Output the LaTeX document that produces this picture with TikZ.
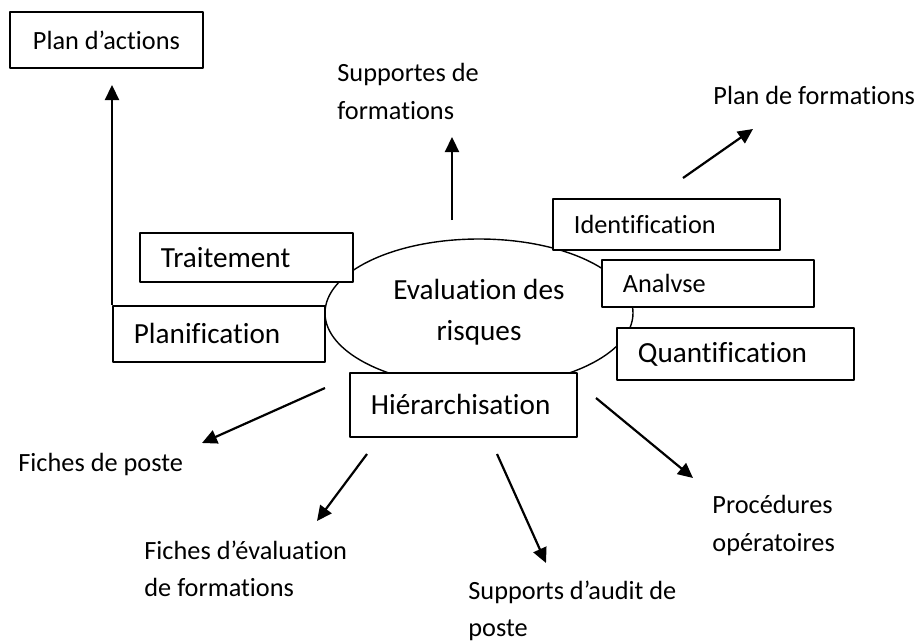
\documentclass[tikz,border=0pt]{standalone}
\usepackage{fontspec}
\setmainfont{Carlito}[Ligatures={NoCommon,NoRare,NoContextual}]
\usetikzlibrary{shapes.geometric,arrows.meta}
\newcommand{\petit}{\fontsize{13.15}{18.75}\selectfont}
\newcommand{\grand}{\fontsize{14.6}{20.5}\selectfont}
\tikzset{
	boite/.style={draw,fill=white,line width=0.9pt,align=left,inner xsep=10.5pt,inner ysep=0pt,anchor=north west,font=\grand},
	sortie/.style={align=left,inner sep=0pt,anchor=west,font=\petit},
	fleche/.style={->,line width=1.1pt}
}
\begin{document}
\begin{tikzpicture}[x=0.5pt,y=-0.5pt,>={Triangle[length=7.5pt,width=7pt]},line join=round]
	\useasboundingbox (0,0) rectangle (919,642);
	%		centre
	\node[draw,ellipse,line width=0.7pt,minimum width=154pt,minimum height=74pt,align=center,font=\grand] (eval) at (479,313) {Evaluation des\\risques\rule[-3pt]{0pt}{0pt}};
	
	\node[boite,minimum width=96.5pt,minimum height=28pt,align=center,font=\petit] (actions) at (9,11) {Plan d’actions};
	\node[boite,minimum width=106.5pt,minimum height=24.5pt,text width=85.5pt] (trait) at (139,232) {Traitement};
	\node[boite,minimum width=106pt,minimum height=28pt,text width=85pt] (planif) at (112,305) {Planification};
	\node[boite,minimum width=113.5pt,minimum height=25.5pt,text width=92.5pt,font=\petit] (ident) at (552,198) {Identification};
	\node[boite,minimum width=106pt,minimum height=23.5pt,text width=85pt,font=\petit] (analyse) at (601,259) {Analvse};
	\node[boite,minimum width=118.5pt,minimum height=26pt,text width=97.5pt] (quantif) at (616,327) {Quantification};
	\node[boite,minimum width=113.5pt,minimum height=32pt,text width=92.5pt] (hier) at (349,372) {Hiérarchisation};
	
	%		sorties
	\node[sortie] (supform) at (337,91.5) {Supportes de\\formations};
	\node[sortie] (planform) at (713,95) {Plan de formations};
	\node[sortie] (fiches) at (18,464) {Fiches de poste};
	\node[sortie] (fichev) at (144,569) {Fiches d’évaluation\\de formations};
	\node[sortie] (audit) at (468,611) {Supports d’audit de\\poste};
	\node[sortie] (proc) at (712,525.5) {Procédures\\opératoires};
	
	\coordinate (a1) at (112,85);
	\coordinate (b1) at (452,220); \coordinate (b2) at (452,137);
	\coordinate (c1) at (683,178); \coordinate (c2) at (753,129);
	\coordinate (d1) at (325,388); \coordinate (d2) at (202,443);
	\coordinate (e1) at (367,454); \coordinate (e2) at (317,521);
	\coordinate (f1) at (497,454); \coordinate (f2) at (546,563);
	\coordinate (g1) at (596,398); \coordinate (g2) at (693,478);
	
	\draw[fleche] (planif.north west)--(a1);
	\draw[fleche] (b1)--(b2);
	\draw[fleche] (c1)--(c2);
	\draw[fleche] (d1)--(d2);
	\draw[fleche] (e1)--(e2);
	\draw[fleche] (f1)--(f2);
	\draw[fleche] (g1)--(g2);
\end{tikzpicture}
\end{document}
